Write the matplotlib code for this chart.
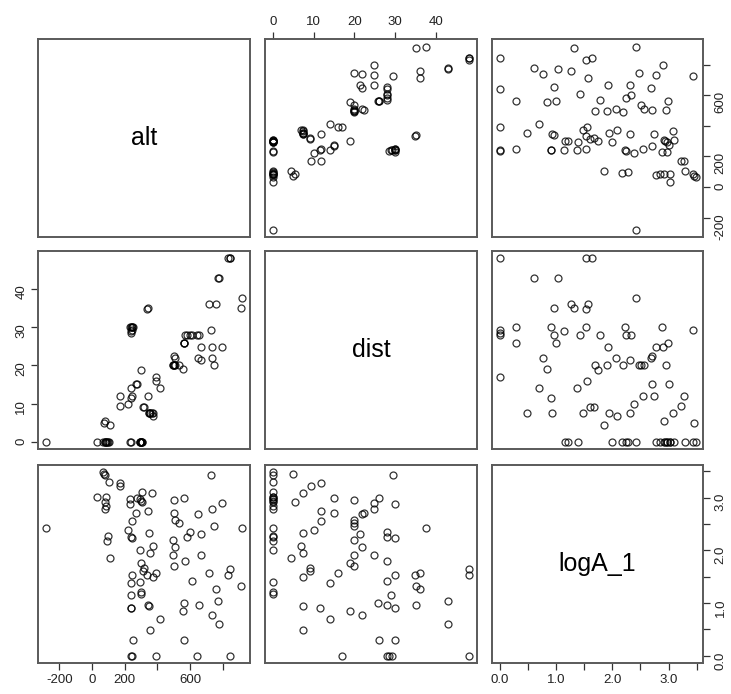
import numpy as np
import matplotlib
matplotlib.use("Agg")
from matplotlib import pyplot as plt

plt.rcParams['font.family'] = ['Liberation Sans', 'DejaVu Sans']

alt = [66, 72, 725, 82, 103, 170, 170, 308, 364, 31,
       88, 277, 561, 232, 294, 503, 302, 82, 308, 797,
       232, 88, 78, 733, 345, 267, 503, 647, 507, 247,
       534, 744, -281, 918, 220, 602, 349, 664, 97, 580,
       236, 243, 493, 92, 374, 507, 294, 355, 664, 495,
       107, 571, 298, 499, 318, 845, 314, 713, 335, 832,
       247, 394, 372, 610, 294, 240, 910, 756, 298, 298,
       240, 770, 561, 655, 339, 349, 240, 240, 557, 736,
       415, 775, 353, 249, 565, 392, 643, 236, 243, 843]
dist = [0, 4.9, 29.4, 0, 0, 11.9, 9.4, 0, 7.4, 0,
        0, 15, 26, 0, 0, 20, 0, 5.5, 0, 24.9,
        30, 0, 0, 24.9, 11.9, 15, 22.4, 21.9, 20, 11.9,
        20, 20, 0, 37.6, 10, 27.9, 7.4, 21.4, 0, 27.9,
        0, 30, 20, 0, 6.8, 21.9, 0, 7.4, 24.9, 20,
        4.4, 28, 18.9, 20, 9, 48.1, 9, 36, 34.9, 48.1,
        30, 16, 7.4, 27.9, 0, 14, 35.2, 36, 0, 0,
        29, 43, 25.9, 28, 35.1, 7.4, 11.5, 30, 19, 21.9,
        14, 43, 7.4, 30, 26, 17, 28, 28.6, 29.2, 48.1]
logA_1 = [3.48, 3.45, 3.43, 3.43, 3.30, 3.27, 3.23, 3.10, 3.08, 3.02,
          3.02, 3.00, 2.99, 2.97, 2.97, 2.96, 2.94, 2.92, 2.92, 2.90,
          2.88, 2.85, 2.78, 2.78, 2.74, 2.70, 2.70, 2.69, 2.57, 2.55,
          2.52, 2.47, 2.425, 2.425, 2.39, 2.34, 2.32, 2.31, 2.28, 2.25,
          2.25, 2.23, 2.20, 2.17, 2.09, 2.07, 2.00, 1.95, 1.92, 1.91,
          1.86, 1.79, 1.75, 1.70, 1.67, 1.64, 1.60, 1.57, 1.54, 1.54,
          1.53, 1.56, 1.49, 1.42, 1.40, 1.38, 1.33, 1.26, 1.21, 1.17,
          1.15, 1.04, 1.00, 0.96, 0.96, 0.94, 0.91, 0.91, 0.84, 0.78,
          0.70, 0.61, 0.48, 0.30, 0.30, 0.0, 0.0, 0.0, 0.0, 0.0]

names = ["alt", "dist", "logA_1"]
data = [np.array(alt), np.array(dist), np.array(logA_1)]

# tick positions and the labels R actually printed
ticks = [[-200, 0, 200, 400, 600, 800],
         [0, 10, 20, 30, 40],
         [0.0, 0.5, 1.0, 1.5, 2.0, 2.5, 3.0, 3.5]]
tick_labels = [["-200", "0", "200", "", "600", ""],
               ["0", "10", "20", "30", "40"],
               ["0.0", "", "1.0", "", "2.0", "", "3.0", ""]]


def lims(v):
    lo, hi = v.min(), v.max()
    ext = (hi - lo) * 0.04
    return lo - ext, hi + ext


W, H = 731, 694
fig = plt.figure(figsize=(W / 100, H / 100), dpi=100)

col_left = [38.3, 265.0, 491.7]
row_top = [39.3, 251.0, 465.0]
pw, ph = 211.7, 198.0

frame_col = "#5a5a5a"

for i in range(3):
    for j in range(3):
        ax = fig.add_axes([col_left[j] / W, 1 - (row_top[i] + ph) / H, pw / W, ph / H])
        for s in ax.spines.values():
            s.set_color(frame_col)
            s.set_linewidth(1.4)
        ax.set_xlim(*lims(data[j]))
        ax.set_ylim(*lims(data[i]))
        ax.tick_params(direction="out", length=5, width=0.9, color="#333333",
                       labelsize=9.5, labelcolor="#222222", pad=3,
                       bottom=False, top=False, left=False, right=False,
                       labelbottom=False, labeltop=False, labelleft=False, labelright=False)
        ax.set_xticks(ticks[j])
        ax.set_xticklabels(tick_labels[j])
        ax.set_yticks(ticks[i])
        ax.set_yticklabels(tick_labels[i])
        ax.tick_params(axis="y", labelrotation=90)
        for lab in ax.get_yticklabels():
            lab.set_va("center")

        if i == j:
            ax.text(0.5, 0.5, names[i], transform=ax.transAxes,
                    ha="center", va="center", fontsize=18)
        else:
            ax.plot(data[j], data[i], "o", mfc="none", mec="black",
                    ms=5.0, mew=0.9, alpha=0.8)

        # axes placement as in R's pairs()
        if i == 2 and j in (0, 2):
            ax.tick_params(axis="x", bottom=True, labelbottom=True)
        if i == 0 and j == 1:
            ax.tick_params(axis="x", top=True, labeltop=True)
        if j == 0 and i == 1:
            ax.tick_params(axis="y", left=True, labelleft=True)
        if j == 2 and i in (0, 2):
            ax.tick_params(axis="y", right=True, labelright=True)

fig.savefig("out.png", dpi=100)
